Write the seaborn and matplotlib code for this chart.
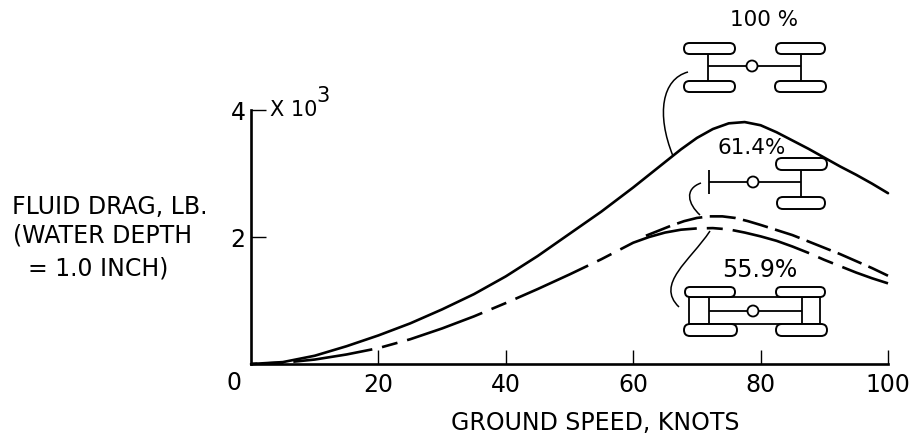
import numpy as np
import pandas as pd
import seaborn as sns
import matplotlib as mpl
import matplotlib.pyplot as plt
from matplotlib.patches import Circle, FancyBboxPatch, PathPatch
from matplotlib.path import Path

# Values (fluid drag in thousands of lb)
speed_full = [0, 5, 10, 15, 20, 25, 30, 35, 40, 45, 50, 55, 60, 65, 67.5, 70, 72.5, 75, 77.5, 80, 82.5,
              85, 87.5, 90, 92.5, 95, 97.5, 100]
drag_full = [0, 0.03, 0.13, 0.28, 0.45, 0.64, 0.86, 1.10, 1.38, 1.70, 2.05, 2.40, 2.78, 3.18, 3.38, 3.56,
             3.70, 3.79, 3.81, 3.76, 3.65, 3.52, 3.39, 3.25, 3.11, 2.98, 2.84, 2.69]
speed_614 = [62, 64, 66, 68, 70, 72, 74, 76, 78, 80, 82.5, 85, 87.5, 90, 92.5, 95, 97.5, 100]
drag_614 = [2.02, 2.10, 2.18, 2.25, 2.30, 2.325, 2.325, 2.30, 2.25, 2.19, 2.11, 2.03, 1.93, 1.83, 1.73,
            1.62, 1.51, 1.39]
speed_559 = [0, 5, 10, 15, 20, 25, 30, 35, 40, 45, 50, 55, 60, 62.5, 65, 67.5, 70, 72.5, 75, 77.5, 80,
             82.5, 85, 87.5, 90, 92.5, 95, 97.5, 100]
drag_559 = [0, 0.02, 0.07, 0.15, 0.25, 0.39, 0.56, 0.75, 0.96, 1.18, 1.41, 1.65, 1.91, 2.00, 2.07, 2.115,
            2.135, 2.14, 2.12, 2.07, 2.01, 1.94, 1.85, 1.75, 1.64, 1.54, 1.44, 1.35, 1.27]

x_ticks = [20, 40, 60, 80, 100]
y_ticks = [2, 4]
y_label_lines = ["FLUID DRAG, LB.", "(WATER DEPTH", "= 1.0 INCH)"]
x_label = "GROUND SPEED, KNOTS"
pct_labels = ["100 %", "61.4%", "55.9%"]

W, H = 916, 439
FS = 17
PX = 0.72  # one pixel in points at dpi 100

sns.set_theme(style="white", rc={"lines.scale_dashes": False, "font.family": "DejaVu Sans"})
fig = plt.figure(figsize=(W / 100, H / 100), dpi=100)
ax = fig.add_axes([251 / W, 1 - 365 / H, (888 - 251) / W, (365 - 111) / H])

# Drag curves
full = pd.DataFrame({"speed": speed_full, "drag": drag_full})
mid = pd.DataFrame({"speed": speed_614, "drag": drag_614})
low = pd.DataFrame({"speed": speed_559, "drag": drag_559})
sns.lineplot(data=full, x="speed", y="drag", ax=ax, color="black", lw=1.9, clip_on=False)
sns.lineplot(data=mid, x="speed", y="drag", ax=ax, color="black", lw=1.9, clip_on=False,
             linestyle=(0, (26 * PX, 7.5 * PX)))
sns.lineplot(data=low, x="speed", y="drag", ax=ax, color="black", lw=1.9, clip_on=False,
             linestyle=(53, (80 * PX, 10 * PX, 16 * PX, 10 * PX)))

ax.set_xlim(0, 100)
ax.set_ylim(0, 4)
ax.set_xlabel("")
ax.set_ylabel("")
ax.patch.set_alpha(0)
ax.set_xticks(x_ticks)
ax.set_yticks(y_ticks)
ax.tick_params(axis="x", direction="in", length=14 * PX, width=1.0, color="black", pad=6,
               labelsize=FS, labelcolor="black", bottom=True)
ax.tick_params(axis="y", direction="in", length=15 * PX, width=1.0, color="black", pad=4,
               labelsize=FS, labelcolor="black", left=True)
sns.despine(ax=ax)
for side in ["left", "bottom"]:
    ax.spines[side].set_color("black")
    ax.spines[side].set_linewidth(1.9)

# Overlay in pixel coordinates for the lettering and the gear sketches
ov = fig.add_axes([0, 0, 1, 1])
ov.set_xlim(0, W)
ov.set_ylim(H, 0)
ov.axis("off")


def label(x, y, s, ha="center", size=FS):
    ov.text(x, y, s, ha=ha, va="center", fontsize=size, color="black")


def tire(x0, x1, y0, y1):
    r = (y1 - y0) / 2
    ov.add_patch(FancyBboxPatch((x0 + r, y0 + r), x1 - x0 - 2 * r, 0.01,
                                boxstyle=f"round,pad={r},rounding_size={r}",
                                fc="white", ec="black", lw=1.4, zorder=4))


def strut(x0, y0, x1, y1):
    ov.plot([x0, x1], [y0, y1], color="black", lw=1.3, solid_capstyle="butt", zorder=3)


def hub(x, y):
    ov.add_patch(Circle((x, y), 5.5, fc="white", ec="black", lw=1.3, zorder=5))


def leader(*pts):
    codes = [Path.MOVETO] + [Path.CURVE4] * (len(pts) - 1)
    ov.add_patch(PathPatch(Path(pts, codes), fc="none", ec="black", lw=1.1))


# Text
for y, line, x in zip([207, 236, 269], y_label_lines, [12, 13, 28]):
    label(x, y, line, ha="left")
label(595, 423, x_label)
label(234, 383, "0")
label(270, 110, "X 10", ha="left", size=15)
label(323, 96, "3", ha="center", size=15)

# 100 %
label(764, 20, pct_labels[0], size=15.5)
strut(708, 49, 708, 87)
strut(801, 49, 801, 87)
strut(708, 67, 801, 67)
tire(684, 735, 44, 55)
tire(776, 825, 44, 55)
tire(684, 735, 82, 93)
tire(775, 826, 82, 93)
hub(752, 67)
leader((688, 73), (662, 80), (656, 115), (673, 157))

# 61.4 %
label(752, 148, pct_labels[1], size=15.5)
strut(709, 171, 709, 195)
strut(801, 165, 801, 204)
strut(709, 183, 801, 183)
tire(776, 827, 159, 171)
tire(777, 825, 198, 210)
hub(753, 183)
leader((701, 184), (684, 190), (688, 205), (700, 216))

# 55.9 %
label(760, 270, pct_labels[2])
strut(689, 293, 689, 331)
strut(820, 293, 820, 331)
strut(709, 298, 709, 325)
strut(802, 298, 802, 325)
strut(689, 298, 820, 298)
strut(689, 325, 820, 325)
strut(709, 312, 802, 312)
tire(685, 735, 288, 298)
tire(776, 825, 288, 298)
tire(684, 737, 325, 337)
tire(776, 827, 325, 337)
hub(753, 312)
leader((710, 232), (690, 262), (655, 285), (679, 308))

fig.savefig("out.png", dpi=100)
